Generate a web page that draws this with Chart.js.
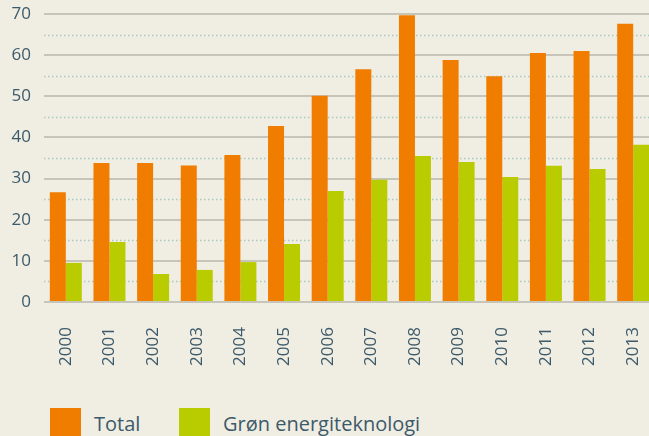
<!DOCTYPE html>
<html lang="da">
<head>
<meta charset="UTF-8" />
<title>Total og grøn energiteknologi</title>
<script src="https://cdn.jsdelivr.net/npm/chart.js"></script>
<style>
  html, body { margin: 0; padding: 0; background: #f0ede3; overflow: hidden; }
  #wrap { position: relative; width: 649px; height: 436px; overflow: hidden; }
  #chart { position: absolute; left: 0; top: 0; }
  #legend { position: absolute; left: 50px; top: 408px; font-family: "Open Sans", sans-serif; font-size: 20px; color: #3c5a6a; white-space: nowrap; }
  .item { display: inline-block; width: 129px; }
  .box { display: inline-block; width: 31px; height: 28px; vertical-align: top; margin-right: 13px; }
  .lbl { display: inline-block; line-height: 32px; vertical-align: top; }
</style>
</head>
<body>
<div id="wrap">
  <canvas id="chart" width="655" height="380"></canvas>
  <div id="legend"></div>
</div>
<script>
const years = ["2000", "2001", "2002", "2003", "2004", "2005", "2006", "2007", "2008", "2009", "2010", "2011", "2012", "2013"];
const total = [26.7, 33.8, 33.8, 33.2, 35.7, 42.8, 50.1, 56.6, 69.7, 58.8, 54.9, 60.5, 61.0, 67.6];
const groen = [9.5, 14.6, 6.8, 7.8, 9.7, 14.1, 27.0, 29.7, 35.5, 34.0, 30.4, 33.1, 32.3, 38.2];
const seriesNames = ["Total", "Grøn energiteknologi"];
const seriesColors = ["#f07d00", "#b9cc00"];
const halfSteps = [5, 15, 25, 35, 45, 55, 65];

const textColor = "#3c5a6a";

// dotted lines at the half steps, drawn behind the bars
const dottedGrid = {
  id: "dottedGrid",
  beforeDatasetsDraw(chart) {
    const { ctx, chartArea, scales } = chart;
    ctx.save();
    ctx.strokeStyle = "#a9c9c1";
    ctx.lineWidth = 1.5;
    ctx.setLineDash([1.5, 2.5]);
    halfSteps.forEach((v) => {
      const y = Math.round(scales.y.getPixelForValue(v)) + 0.5;
      ctx.beginPath();
      ctx.moveTo(chartArea.left, y);
      ctx.lineTo(chartArea.right, y);
      ctx.stroke();
    });
    ctx.restore();
  },
};

new Chart(document.getElementById("chart"), {
  type: "bar",
  data: {
    labels: years,
    datasets: [
      { label: seriesNames[0], data: total, backgroundColor: seriesColors[0] },
      { label: seriesNames[1], data: groen, backgroundColor: seriesColors[1] },
    ],
  },
  options: {
    responsive: false,
    animation: false,
    layout: { padding: { top: 14, left: 0, right: 0, bottom: 0 } },
    categoryPercentage: 0.733,
    barPercentage: 1,
    plugins: {
      legend: { display: false },
      tooltip: { enabled: false },
    },
    scales: {
      x: {
        grid: { display: false },
        border: { display: false },
        ticks: {
          color: textColor,
          font: { family: "Open Sans", size: 17 },
          minRotation: 90,
          maxRotation: 90,
          padding: 17,
        },
        afterFit(scale) {
          scale.height = 78;
          scale.paddingLeft = 0;
          scale.paddingRight = 0;
        },
      },
      y: {
        min: 0,
        max: 70,
        border: { display: false },
        grid: { color: "#c7c5b9", lineWidth: 2, drawTicks: false },
        ticks: {
          stepSize: 10,
          color: textColor,
          font: { family: "Open Sans", size: 17 },
          padding: 13,
        },
        afterFit(scale) {
          scale.width = 44;
          scale.paddingTop = 0;
          scale.paddingBottom = 0;
        },
      },
    },
  },
  plugins: [dottedGrid],
});

// legend below the chart
const legend = document.getElementById("legend");
seriesNames.forEach((name, i) => {
  const div = document.createElement("div");
  div.className = "item";
  div.innerHTML = `<span class="box" style="background:${seriesColors[i]}"></span><span class="lbl">${name}</span>`;
  legend.appendChild(div);
});
</script>
</body>
</html>
